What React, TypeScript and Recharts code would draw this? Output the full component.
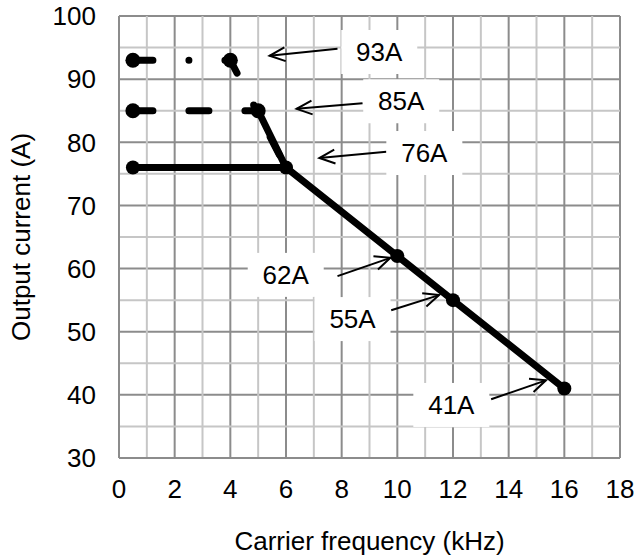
import React from 'react'
import {
  LineChart,
  Line,
  XAxis,
  YAxis,
  CartesianGrid,
  ReferenceLine,
  ReferenceDot,
} from 'recharts'

// ── data ────────────────────────────────────────────────────────
const FREQ_93 = [0.5, 4, 6]
const AMP_93 = [93, 93, 76]
const FREQ_85 = [0.5, 5]
const AMP_85 = [85, 85]
const FREQ_85_DROP = [5, 6]
const AMP_85_DROP = [85, 76]
const FREQ_76 = [0.5, 6, 10, 12, 16]
const AMP_76 = [76, 76, 62, 55, 41]

const X_TICKS = [0, 2, 4, 6, 8, 10, 12, 14, 16, 18]
const Y_TICKS = [30, 40, 50, 60, 70, 80, 90, 100]
const X_MINOR = [1, 3, 5, 7, 9, 11, 13, 15, 17]
const Y_MINOR = [35, 45, 55, 65, 75, 85, 95]

// callouts: label text, label anchor, arrow tail -> arrow head
const CALLOUT_TEXT = ['93A', '85A', '76A', '62A', '55A', '41A']
const CALLOUT_X = [9.35, 10.14, 10.97, 5.99, 8.39, 11.94]
const CALLOUT_Y = [94.3, 86.5, 78.3, 59.0, 52.0, 38.4]
const ARROW_FROM_X = [7.85, 8.75, 9.61, 7.85, 9.78, 13.37]
const ARROW_FROM_Y = [94.8, 86.2, 78.5, 58.8, 53.4, 39.3]
const ARROW_TO_X = [5.41, 6.38, 7.2, 9.75, 11.5, 15.34]
const ARROW_TO_Y = [93.7, 85.3, 77.5, 61.7, 55.8, 42.3]

const toPoints = (xs: number[], ys: number[]) => xs.map((f, i) => ({ f, a: ys[i] }))

const FONT = '"Liberation Sans", Arial, sans-serif'
const MAJOR = '#8c8c8c'
const MINOR = '#c6c6c6'

// dots only on the first `n` points
const dotsUpTo = (n: number, r: number) =>
  // eslint-disable-next-line @typescript-eslint/no-explicit-any
  (props: any) => {
    const { cx, cy, index } = props
    if (index >= n) return <g key={`d-${index}`} />
    return <circle key={`d-${index}`} cx={cx} cy={cy} r={r} fill="#000" />
  }

// eslint-disable-next-line @typescript-eslint/no-explicit-any
function ArrowShape(props: any) {
  const { x1, y1, x2, y2 } = props
  const ang = Math.atan2(y2 - y1, x2 - x1)
  const len = 17
  const spread = 0.42
  const ax = x2 - len * Math.cos(ang - spread)
  const ay = y2 - len * Math.sin(ang - spread)
  const bx = x2 - len * Math.cos(ang + spread)
  const by = y2 - len * Math.sin(ang + spread)
  return (
    <g>
      <line x1={x1} y1={y1} x2={x2} y2={y2} stroke="#000" strokeWidth={2} />
      <polyline points={`${ax},${ay} ${x2},${y2} ${bx},${by}`} fill="none" stroke="#000" strokeWidth={2} />
    </g>
  )
}

const labelShape = (text: string) =>
  // eslint-disable-next-line @typescript-eslint/no-explicit-any
  (props: any) => {
    const { cx, cy } = props
    return (
      <g>
        <rect x={cx - 38} y={cy - 22} width={76} height={44} fill="#fff" />
        <text x={cx} y={cy} dy="0.355em" textAnchor="middle" fontSize={26} fontFamily={FONT} fill="#000">
          {text}
        </text>
      </g>
    )
  }

export default function App() {
  return (
    <div style={{ position: 'absolute', left: 0, top: 0, background: '#fff' }}>
      <LineChart width={635} height={560} margin={{ top: 16, right: 15, left: 0, bottom: 0 }}>
        <CartesianGrid stroke={MAJOR} strokeWidth={2} />
        {X_MINOR.map((x) => (
          <ReferenceLine key={`mx${x}`} x={x} stroke={MINOR} strokeWidth={2} />
        ))}
        {Y_MINOR.map((y) => (
          <ReferenceLine key={`my${y}`} y={y} stroke={MINOR} strokeWidth={2} />
        ))}
        <XAxis
          dataKey="f"
          type="number"
          domain={[0, 18]}
          ticks={X_TICKS}
          height={102}
          tickLine={false}
          tickMargin={16}
          axisLine={{ stroke: MAJOR, strokeWidth: 2 }}
          tick={{ fontSize: 26, fill: '#000', fontFamily: FONT }}
          label={{
            content: ({ viewBox }: any) => (
              <text
                x={viewBox.x + viewBox.width / 2}
                y={550}
                textAnchor="middle"
                fontSize={26}
                fontFamily={FONT}
                fill="#000"
              >
                Carrier frequency (kHz)
              </text>
            ),
          }}
        />
        <YAxis
          type="number"
          domain={[30, 100]}
          ticks={Y_TICKS}
          width={119}
          tickLine={false}
          tickMargin={17}
          axisLine={{ stroke: MAJOR, strokeWidth: 2 }}
          tick={{ fontSize: 26, fill: '#000', fontFamily: FONT }}
          label={{
            content: ({ viewBox }: any) => {
              const cy = viewBox.y + viewBox.height / 2
              return (
                <text
                  x={30}
                  y={cy}
                  transform={`rotate(-90, 30, ${cy})`}
                  textAnchor="middle"
                  fontSize={26}
                  fontFamily={FONT}
                  fill="#000"
                >
                  Output current (A)
                </text>
              )
            },
          }}
        />

        <Line
          data={toPoints(FREQ_93, AMP_93)}
          dataKey="a"
          stroke="#000"
          strokeWidth={7}
          strokeLinecap="round"
          strokeDasharray="20 36 0 36"
          dot={dotsUpTo(2, 7.5)}
          activeDot={false}
          isAnimationActive={false}
        />
        <Line
          data={toPoints(FREQ_85, AMP_85)}
          dataKey="a"
          stroke="#000"
          strokeWidth={7}
          strokeLinecap="round"
          strokeDasharray="20 36"
          dot={dotsUpTo(2, 7.5)}
          activeDot={false}
          isAnimationActive={false}
        />
        <Line
          data={toPoints(FREQ_85_DROP, AMP_85_DROP)}
          dataKey="a"
          stroke="#000"
          strokeWidth={7}
          strokeLinecap="round"
          dot={false}
          activeDot={false}
          isAnimationActive={false}
        />
        <Line
          data={toPoints(FREQ_76, AMP_76)}
          dataKey="a"
          stroke="#000"
          strokeWidth={7}
          dot={dotsUpTo(5, 7)}
          activeDot={false}
          isAnimationActive={false}
        />

        {CALLOUT_TEXT.map((t, i) => (
          <ReferenceDot key={`lb${t}`} x={CALLOUT_X[i]} y={CALLOUT_Y[i]} shape={labelShape(t)} />
        ))}
        {CALLOUT_TEXT.map((t, i) => (
          <ReferenceLine
            key={`ar${t}`}
            segment={[
              { x: ARROW_FROM_X[i], y: ARROW_FROM_Y[i] },
              { x: ARROW_TO_X[i], y: ARROW_TO_Y[i] },
            ]}
            shape={ArrowShape}
          />
        ))}
      </LineChart>
    </div>
  )
}
